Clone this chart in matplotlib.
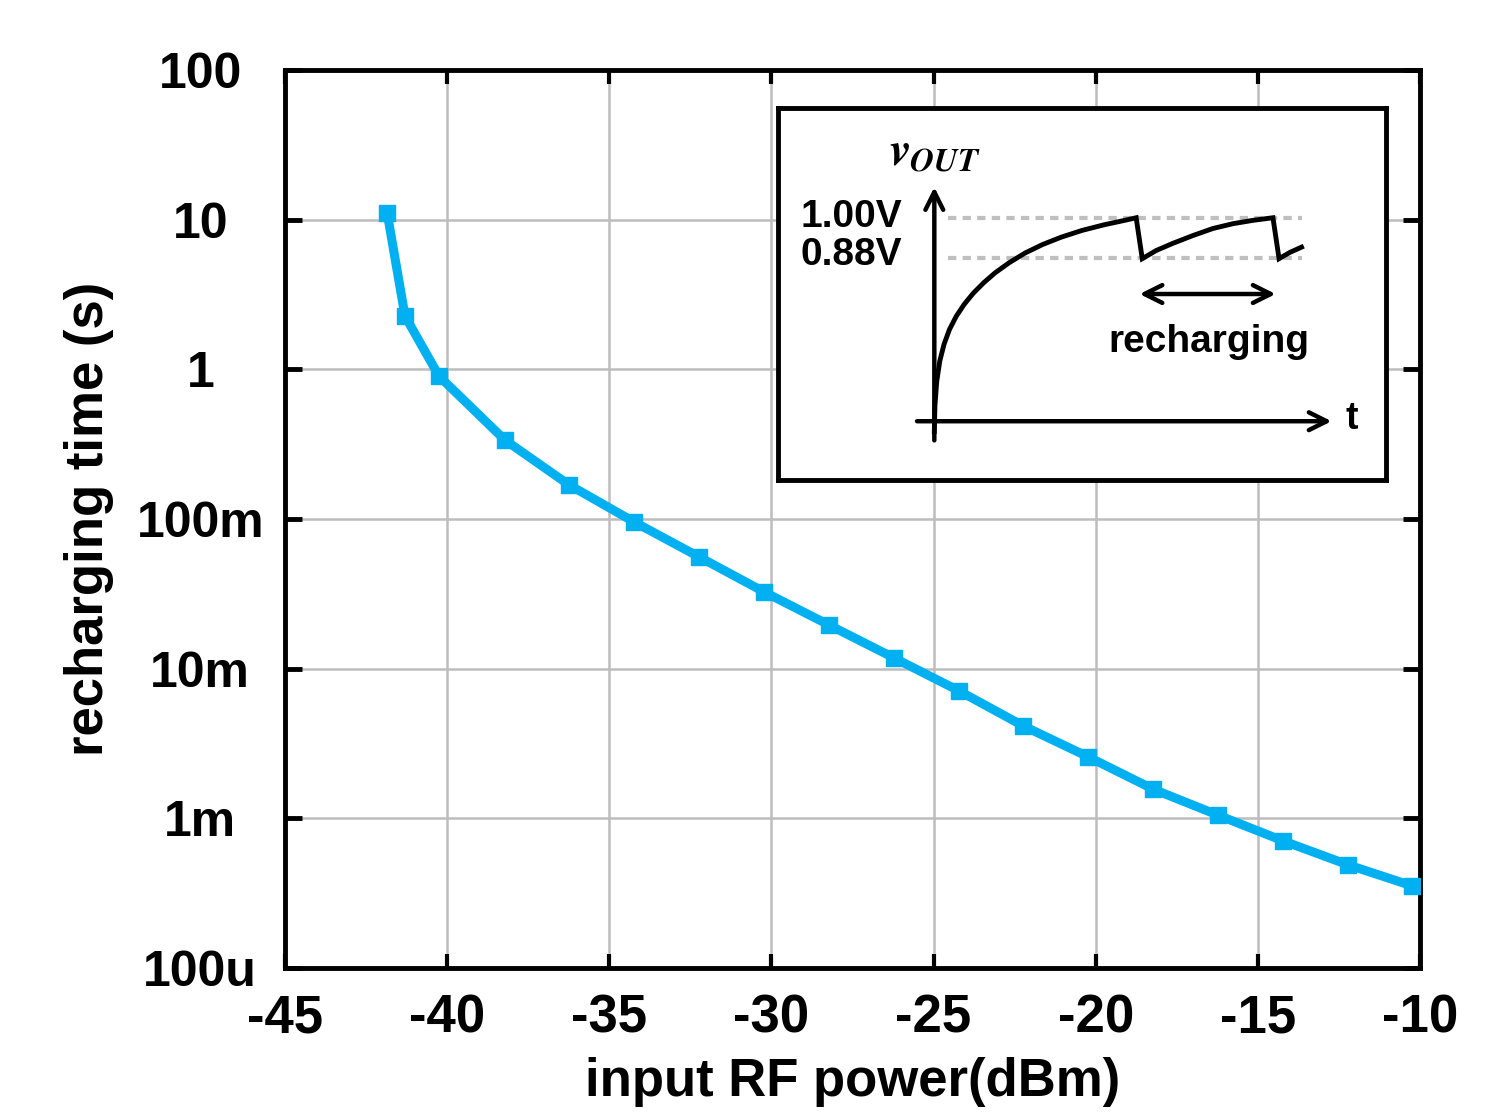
import matplotlib
matplotlib.use("Agg")
import matplotlib.pyplot as plt

plt.rcParams['font.family'] = ['Liberation Sans', 'DejaVu Sans']
plt.rcParams['font.weight'] = 'bold'
plt.rcParams['mathtext.fontset'] = 'stix'

# recharging time vs input RF power
power_dbm = [-41.85, -41.3, -40.25, -38.22, -36.24, -34.24, -32.23, -30.23, -28.23,
             -26.22, -24.22, -22.24, -20.24, -18.24, -16.23, -14.23, -12.22, -10.25]
recharge_s = [11.1, 2.27, 0.90, 0.337, 0.169, 0.0957, 0.0558, 0.0326, 0.0196,
              0.0118, 0.00711, 0.00415, 0.00258, 0.00157, 0.00105, 0.000708,
              0.000489, 0.000354]

x_ticks = [-45, -40, -35, -30, -25, -20, -15, -10]
y_ticks = [1e-4, 1e-3, 1e-2, 1e-1, 1, 10, 100]
y_labels = ['100u', '1m', '10m', '100m', '1', '10', '100']

# inset sketch of v_OUT (schematic units, 0..100 box)
sketch_t = [25.7, 25.8, 26.1, 26.6, 27.3, 28.2, 29.3, 30.6, 32.1, 33.8, 35.7, 38.0,
            40.6, 43.5, 46.6, 50.0, 53.6, 57.0, 58.9, 59.9, 62.2, 64.9, 68.2, 71.5,
            74.8, 78.1, 81.4, 82.4, 84.2, 86.1]
sketch_v = [13.0, 20.0, 26.5, 32.0, 36.5, 40.5, 44.0, 47.2, 50.2, 53.0, 55.7, 58.4,
            61.0, 63.3, 65.3, 67.1, 68.6, 69.8, 70.5, 59.5, 61.7, 63.6, 65.7, 67.6,
            68.9, 69.8, 70.5, 59.5, 61.2, 62.6]
level_hi = 70.5
level_lo = 59.7

fig = plt.figure(figsize=(15.12, 11.16), dpi=100)
ax = fig.add_axes([0.1885, 0.1326, 0.7507, 0.8047])

ax.plot(power_dbm, recharge_s, color='#00B0F0', lw=6.5, marker='s', ms=11,
        solid_capstyle='round', solid_joinstyle='round', zorder=3)

ax.set_yscale('log')
ax.set_xlim(-45, -10)
ax.set_ylim(1e-4, 100)
ax.set_xticks(x_ticks)
ax.set_xticklabels([str(v) for v in x_ticks], fontsize=38, fontweight='bold')
ax.set_yticks(y_ticks)
ax.set_yticklabels(y_labels, fontsize=36, fontweight='bold', ha='center')
ax.yaxis.set_minor_locator(matplotlib.ticker.NullLocator())

ax.grid(True, color='#BDBDBD', lw=1.8)
for s in ax.spines.values():
    s.set_linewidth(3.5)
    s.set_color('black')
ax.tick_params(axis='y', direction='in', length=12, width=3.5, pad=61,
               right=True)
ax.tick_params(axis='x', direction='in', length=10, width=3, pad=18, top=True)

ax.set_xlabel('input RF power(dBm)', fontsize=38, fontweight='bold', labelpad=10)
ax.set_ylabel('recharging time (s)', fontsize=38, fontweight='bold', labelpad=16)

# inset
ins = fig.add_axes([0.5146, 0.5699, 0.4021, 0.3333], zorder=5)
ins.set_xlim(0, 100)
ins.set_ylim(0, 100)
ins.set_xticks([])
ins.set_yticks([])
for s in ins.spines.values():
    s.set_linewidth(3.5)
    s.set_color('black')

ins.plot([28.0, 86.1], [level_hi, level_hi], color='#BFBFBF', lw=3, ls=(0, (2, 1.5)))
ins.plot([28.0, 86.1], [level_lo, level_lo], color='#BFBFBF', lw=3, ls=(0, (2, 1.5)))
ins.plot(sketch_t, sketch_v, color='black', lw=3.5, solid_joinstyle='miter')

ins.annotate('', xy=(25.7, 79.5), xytext=(25.7, 9.9),
             arrowprops=dict(arrowstyle='->', lw=3.2, mutation_scale=32, color='black'))
ins.annotate('', xy=(91.5, 15.8), xytext=(22.4, 15.8),
             arrowprops=dict(arrowstyle='->', lw=3.2, mutation_scale=32, color='black'))
ins.annotate('', xy=(82.3, 50.0), xytext=(59.0, 50.0),
             arrowprops=dict(arrowstyle='<->', lw=3.2, mutation_scale=32, color='black'))

ins.text(93.4, 16.5, 't', fontsize=27, fontweight='bold', ha='left', va='center')
ins.text(20.4, 70.7, '1.00V', fontsize=28, fontweight='bold', ha='right', va='center')
ins.text(20.4, 60.4, '0.88V', fontsize=28, fontweight='bold', ha='right', va='center')
ins.text(70.8, 37.0, 'recharging', fontsize=28, fontweight='bold', ha='center', va='center')
ins.text(18.3, 88.0, r'$v_{OUT}$', fontsize=34, ha='left', va='center')

fig.savefig('out.png', dpi=100)
